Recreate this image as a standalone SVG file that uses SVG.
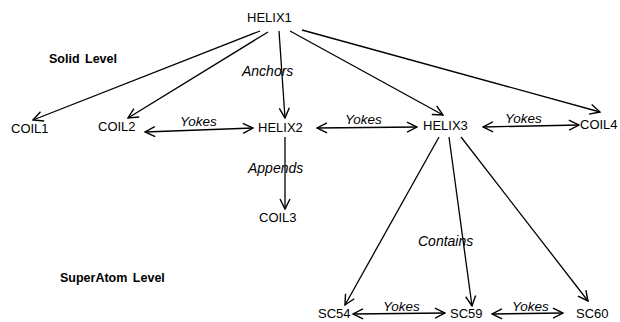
<svg xmlns="http://www.w3.org/2000/svg" width="620" height="322" viewBox="0 0 620 322">
<defs>
<style>
.n{font-family:"Liberation Sans",Arial,sans-serif;font-size:13px;fill:#000}
.l{font-family:"Liberation Sans",Arial,sans-serif;font-size:14px;font-style:italic;fill:#000}
.y{font-family:"Liberation Sans",Arial,sans-serif;font-size:13.5px;font-style:italic;fill:#000}
.h{font-family:"Liberation Sans",Arial,sans-serif;font-size:12.5px;font-weight:bold;fill:#000;word-spacing:2px}
.c{stroke:#000;stroke-width:1.3;fill:none;marker-end:url(#a)}
.d{marker-start:url(#a)}
</style>
<marker id="a" viewBox="0 0 12 12" refX="11" refY="6" markerWidth="12" markerHeight="12" markerUnits="userSpaceOnUse" orient="auto-start-reverse">
<path d="M1,1 L11,6 L1,11" fill="none" stroke="#000" stroke-width="1.4"/>
</marker>
</defs>
<rect width="620" height="322" fill="#fff"/>
<text class="h" x="49" y="63">Solid Level</text>
<text class="h" x="60" y="282">SuperAtom Level</text>
<g id="connectors">
<line class="c" x1="260" y1="31" x2="33" y2="120"/>
<line class="c" x1="268" y1="32" x2="128" y2="118"/>
<line class="c" x1="279" y1="31" x2="285" y2="118"/>
<line class="c" x1="290" y1="31" x2="443" y2="115"/>
<line class="c" x1="302" y1="30" x2="600" y2="112"/>
<line class="c d" x1="145" y1="132" x2="253" y2="128"/>
<line class="c d" x1="317" y1="128" x2="417" y2="127"/>
<line class="c d" x1="483" y1="127" x2="579" y2="125"/>
<line class="c" x1="285" y1="137" x2="285" y2="209"/>
<line class="c" x1="439" y1="137" x2="345" y2="305"/>
<line class="c" x1="449" y1="137" x2="472" y2="306"/>
<line class="c" x1="461" y1="137" x2="588" y2="301"/>
<line class="c d" x1="353" y1="314" x2="445" y2="313"/>
<line class="c d" x1="492" y1="314" x2="563" y2="313"/>
<text class="l" x="242" y="76">Anchors</text>
<text class="l" x="248" y="173">Appends</text>
<text class="l" x="418" y="246">Contains</text>
<text class="y" x="180" y="126">Yokes</text>
<text class="y" x="345" y="124">Yokes</text>
<text class="y" x="505" y="123">Yokes</text>
<text class="y" x="383" y="311">Yokes</text>
<text class="y" x="512" y="311">Yokes</text>
</g>
<g id="HELIX1"><text class="n" x="247" y="22">HELIX1</text></g>
<g id="COIL1"><text class="n" x="11" y="133">COIL1</text></g>
<g id="COIL2"><text class="n" x="98" y="131">COIL2</text></g>
<g id="HELIX2"><text class="n" x="258" y="132">HELIX2</text></g>
<g id="HELIX3"><text class="n" x="423" y="130">HELIX3</text></g>
<g id="COIL4"><text class="n" x="580" y="129">COIL4</text></g>
<g id="COIL3"><text class="n" x="259" y="222">COIL3</text></g>
<g id="SC54"><text class="n" x="318" y="318">SC54</text></g>
<g id="SC59"><text class="n" x="450" y="318">SC59</text></g>
<g id="SC60"><text class="n" x="576" y="318">SC60</text></g>
</svg>
